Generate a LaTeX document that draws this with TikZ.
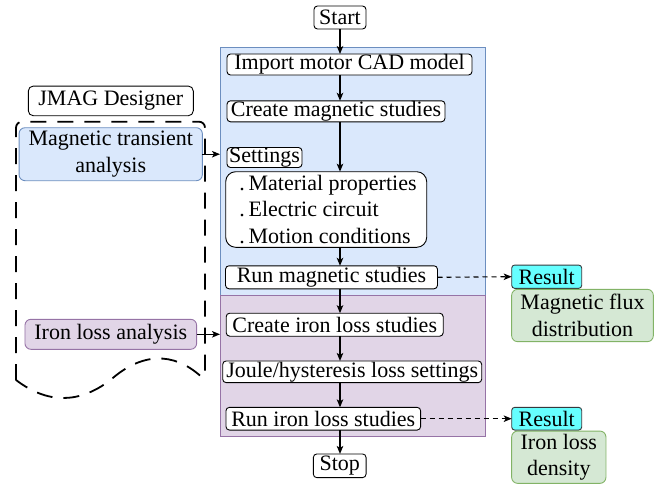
\documentclass[tikz,border=0pt]{standalone}
\usepackage{fontspec}
\setmainfont{Liberation Serif}
\usetikzlibrary{arrows.meta}
\definecolor{bluef}{HTML}{DAE8FC}
\definecolor{blues}{HTML}{6C8EBF}
\definecolor{purf}{HTML}{E1D5E7}
\definecolor{purs}{HTML}{9673A6}
\definecolor{grnf}{HTML}{D5E8D4}
\definecolor{grns}{HTML}{82B366}
\definecolor{cyanf}{HTML}{66FFFF}
\definecolor{darks}{HTML}{36393D}
\begin{document}
\begin{tikzpicture}[x=1pt,y=-1pt,
  every node/.style={font=\fontsize{22}{26.5}\selectfont, inner sep=0pt, outer sep=0pt},
  stepbox/.style={draw=black, line width=0.9pt, fill=white, rounded corners=3.5pt, align=center},
  region/.style={line width=0.9pt},
  sidebox/.style={line width=0.9pt, rounded corners=6pt, align=center},
  resbox/.style={draw=darks, fill=cyanf, line width=0.9pt, rounded corners=3pt},
  flow/.style={line width=1.3pt, -{Stealth[length=8pt,width=6.5pt,inset=2pt]}},
  dflow/.style={line width=1.1pt, dash pattern=on 5pt off 4pt, -{Stealth[length=8pt,width=6.5pt,inset=2pt]}},
  docline/.style={line width=1.8pt, dash pattern=on 16pt off 11pt}
]
\useasboundingbox (0,0) rectangle (665,485);

% containers
\node[region, draw=blues, fill=bluef, minimum width=265pt, minimum height=247.3pt] (bluebox) at (352.5,171.35) {};
\node[region, draw=purs, fill=purf, minimum width=265pt, minimum height=141.5pt] (purbox) at (352.5,365.75) {};

% main flow
\node[stepbox, minimum width=52pt, minimum height=23pt] (start) at (340,17.5) {Start};
\node[stepbox, minimum width=245pt, minimum height=21pt] (imp) at (349.5,64.5) {Import motor CAD model};
\node[stepbox, minimum width=218pt, minimum height=21pt] (cms) at (336,111.3) {Create magnetic studies};
\node[stepbox, minimum width=75pt, minimum height=20pt] (set) at (264.5,157.5) {Settings};
\node[stepbox, rounded corners=10pt, minimum width=201pt, minimum height=75.6pt, align=left] (lst) at (326.2,209.5)
  {\,.\,Material properties\\\,.\,Electric circuit\\\,.\,Motion conditions};
\node[stepbox, minimum width=212pt, minimum height=23pt] (rms) at (331.5,277.3) {Run magnetic studies};
\node[stepbox, minimum width=217pt, minimum height=23pt] (cis) at (334.7,324.7) {Create iron loss studies};
\node[stepbox, minimum width=259pt, minimum height=21.7pt] (jls) at (352.2,371.8) {Joule/hysteresis loss settings};
\node[stepbox, minimum width=194.7pt, minimum height=22.7pt] (ris) at (323.3,418.7) {Run iron loss studies};
\node[stepbox, minimum width=52.7pt, minimum height=23.7pt] (stop) at (339.7,465.8) {Stop};

% results
\node[resbox, minimum width=70pt, minimum height=23.3pt] (res1) at (546.7,276.7) {Result};
\node[sidebox, draw=grns, fill=grnf, minimum width=141.7pt, minimum height=52.3pt] (mfd) at (582.5,315.5) {Magnetic flux\\distribution};
\node[resbox, minimum width=70pt, minimum height=22.7pt] (res2) at (546.7,418.7) {Result};
\node[sidebox, draw=grns, fill=grnf, minimum width=94.3pt, minimum height=52.3pt] (ild) at (558.8,457.2) {Iron loss\\density};

% left side
\node[stepbox, rounded corners=5pt, minimum width=165pt, minimum height=29.7pt] (jmag) at (110.8,100.9) {JMAG Designer};
\draw[docline] {[rounded corners=6pt] (16,380) -- (16,121.7) -- (205,121.7) -- (205,380)}
  .. controls (173.5,352) and (142,352) .. (110.5,380)
  .. controls (79,404) and (47.5,404) .. (16,380);
\node[sidebox, draw=blues, fill=bluef, minimum width=183.3pt, minimum height=53pt] (mta) at (110.7,154.2) {Magnetic transient\\analysis};
\node[sidebox, draw=purs, fill=purf, minimum width=171.7pt, minimum height=30pt] (ila) at (110.8,334.3) {Iron loss analysis};

% connectors
\draw[flow] (start.south) -- (start.south |- imp.north);
\draw[flow] (start.south |- imp.south) -- (start.south |- cms.north);
\draw[flow] (start.south |- cms.south) -- (start.south |- lst.north);
\draw[flow] (start.south |- lst.south) -- (start.south |- rms.north);
\draw[flow] (start.south |- rms.south) -- (start.south |- cis.north);
\draw[flow] (start.south |- cis.south) -- (start.south |- jls.north);
\draw[flow] (start.south |- jls.south) -- (start.south |- ris.north);
\draw[flow] (start.south |- ris.south) -- (stop.north -| start.south);
\draw[dflow] (rms.east) -- (res1.west);
\draw[dflow] (ris.east) -- (res2.west);
\draw[flow] (mta.east) -- (mta.east -| bluebox.west);
\draw[flow] (ila.east) -- (ila.east -| purbox.west);
\end{tikzpicture}
\end{document}
